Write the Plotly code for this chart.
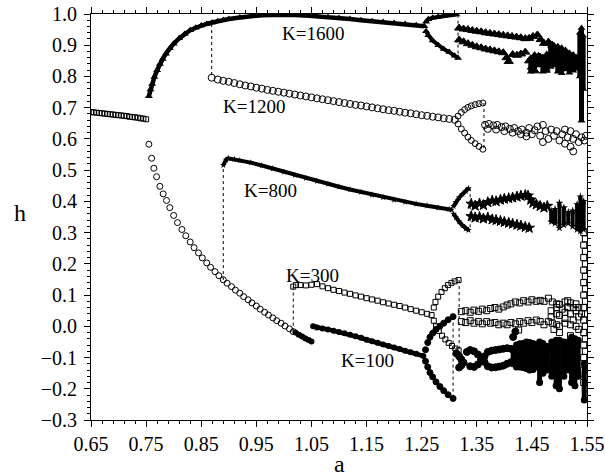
import plotly.graph_objects as go

# ---------------- data ----------------
# common state of all K before the first jump
a_common = [0.650,0.655,0.660,0.665,0.670,0.675,0.680,0.685,0.690,0.695,0.700,
            0.705,0.710,0.715,0.720,0.725,0.730,0.735,0.740,0.745,0.750]
h_common = [0.686,0.685,0.684,0.683,0.682,0.681,0.680,0.679,0.678,0.677,0.676,
            0.675,0.674,0.673,0.671,0.670,0.669,0.668,0.666,0.665,0.663]

# lower branch shared by K=800, 300, 100
a_low = [0.755,0.760,0.764,0.769,0.775,0.781,0.787,0.793,0.800,0.807,0.815,0.822,0.830,
         0.837,0.845,0.852,0.860,0.867,0.875,0.882,0.890,0.897,0.905,0.912,0.920,0.927,
         0.935,0.942,0.950,0.957,0.965,0.972,0.980,0.987,0.995,1.002,1.010,1.017]
h_low = [0.583,0.538,0.506,0.479,0.448,0.424,0.403,0.380,0.355,0.332,0.310,0.290,0.270,
         0.252,0.235,0.219,0.203,0.189,0.175,0.162,0.149,0.138,0.127,0.116,0.106,0.095,
         0.085,0.075,0.065,0.055,0.045,0.036,0.027,0.018,0.010,0.001,-0.008,-0.017]

# K=1600 (upper branch, shared with K=1200 up to a=0.869)
a1600 = [0.755,0.758,0.761,0.765,0.770,0.775,0.780,0.786,0.793,0.800,0.810,0.820,0.830,
         0.840,0.850,0.860,0.870,0.880,0.890,0.900,0.920,0.940,0.960,0.980,1.000,1.020,
         1.040,1.060,1.080,1.100,1.120,1.140,1.160,1.180,1.200,1.220,1.240,1.255]
h1600 = [0.737,0.758,0.776,0.798,0.820,0.840,0.856,0.873,0.890,0.905,0.922,0.936,0.948,
         0.956,0.963,0.968,0.973,0.977,0.981,0.984,0.989,0.993,0.996,0.997,0.998,0.997,
         0.995,0.993,0.990,0.987,0.984,0.980,0.977,0.974,0.971,0.968,0.964,0.961]
a1600_bif = [1.258,1.262,1.270,1.280,1.290,1.300,1.313]
h1600_up = [0.975,0.983,0.988,0.991,0.994,0.996,0.998]
a1600_bif2 = [1.258,1.262,1.270,1.280,1.290,1.300,1.310,1.316]
h1600_dn = [0.945,0.932,0.915,0.900,0.888,0.878,0.866,0.859]
a1600_c = [1.318,1.326,1.334,1.342,1.350,1.358,1.366,1.374,1.382,1.390,1.398,1.406,1.414,
           1.422,1.430,1.438,1.445,1.452,1.460,1.466,1.472,1.480,1.487,
           1.318,1.326,1.334,1.342,1.350,1.358,1.366,1.374,1.382,1.390,1.398,1.404,1.408,
           1.415,1.423,1.430,1.438,1.445,1.450,1.455,1.460,1.465,1.470,1.475,1.480]
h1600_c = [0.955,0.952,0.950,0.947,0.945,0.943,0.940,0.938,0.936,0.934,0.932,0.930,0.928,
           0.926,0.924,0.921,0.922,0.928,0.933,0.918,0.906,0.910,0.900,
           0.917,0.911,0.905,0.900,0.895,0.892,0.888,0.885,0.882,0.879,0.876,0.860,0.848,
           0.870,0.868,0.872,0.878,0.850,0.830,0.818,0.850,0.862,0.840,0.820,0.836]
# dense chaotic columns: a, lowest h, highest h
a1600_col = [1.448,1.455,1.462,1.470,1.477,1.484,1.490,1.497,1.504,1.511,1.518,1.525,
             1.532,1.537,1.540,1.543]
lo1600_col = [0.815,0.820,0.835,0.815,0.825,0.830,0.835,0.815,0.810,0.822,0.812,0.818,
              0.825,0.800,0.658,0.760]
hi1600_col = [0.860,0.870,0.868,0.862,0.872,0.905,0.900,0.897,0.892,0.885,0.876,0.870,
              0.862,0.940,0.955,0.930]

# K=1200
a1200 = [0.869,0.880,0.890,0.900,0.910,0.920,0.930,0.940,0.950,0.960,0.970,0.980,0.990,
         1.000,1.010,1.020,1.030,1.040,1.050,1.060,1.070,1.080,1.090,1.100,1.110,1.120,
         1.130,1.140,1.150,1.160,1.170,1.180,1.190,1.200,1.210,1.220,1.230,1.240,1.250,
         1.260,1.270,1.280,1.290,1.300,1.310]
h1200 = [0.796,0.790,0.786,0.783,0.779,0.775,0.771,0.768,0.764,0.761,0.757,0.754,0.751,
         0.748,0.745,0.742,0.739,0.736,0.733,0.730,0.727,0.724,0.721,0.718,0.715,0.712,
         0.709,0.707,0.704,0.701,0.698,0.695,0.692,0.690,0.687,0.684,0.682,0.679,0.676,
         0.674,0.671,0.669,0.666,0.664,0.661]
a1200_bif = [1.316,1.322,1.328,1.334,1.340,1.347,1.354,1.361]
h1200_up = [0.673,0.685,0.694,0.701,0.706,0.710,0.713,0.715]
h1200_dn = [0.648,0.632,0.619,0.606,0.595,0.585,0.576,0.567]
a1200_c = [1.365,1.372,1.380,1.387,1.395,1.402,1.410,1.418,1.425,1.432,1.440,1.445,1.450,
           1.455,1.460,1.465,1.470,1.470,1.475,1.480,1.485,1.490,1.495,1.500,1.505,1.510,
           1.510,1.515,1.520,1.520,1.525,1.525,1.530,1.535,1.540,1.545,1.548,
           1.370,1.385,1.400,1.415,1.430,1.440]
h1200_c = [0.645,0.648,0.643,0.645,0.638,0.640,0.632,0.635,0.625,0.630,0.620,0.635,0.615,
           0.628,0.640,0.610,0.645,0.590,0.625,0.600,0.630,0.610,0.625,0.595,0.615,0.630,
           0.585,0.605,0.575,0.625,0.560,0.600,0.615,0.590,0.605,0.595,0.610,
           0.632,0.630,0.625,0.620,0.615,0.608]

# K=800
a800 = [0.890,0.895,0.899,0.910,0.920,0.940,0.960,0.980,1.000,1.020,1.040,1.060,1.080,
        1.100,1.120,1.140,1.160,1.180,1.200,1.220,1.240,1.260,1.280,1.300,1.304]
h800 = [0.516,0.533,0.538,0.535,0.531,0.524,0.515,0.505,0.494,0.484,0.474,0.465,0.456,
        0.447,0.438,0.430,0.421,0.413,0.405,0.398,0.392,0.386,0.380,0.375,0.373]
a800_bif = [1.308,1.312,1.318,1.324,1.330,1.335]
h800_up = [0.385,0.398,0.412,0.423,0.433,0.442]
h800_dn = [0.360,0.348,0.335,0.323,0.313,0.308]
a800_c = [1.340,1.347,1.355,1.362,1.370,1.378,1.385,1.393,1.400,1.408,1.415,1.423,1.430,
          1.438,1.443,1.448,1.452,1.458,1.465,1.472,1.478,
          1.340,1.347,1.355,1.362,1.370,1.378,1.385,1.393,1.400,1.408,1.415,1.423,1.430,
          1.438,1.445]
h800_c = [0.392,0.386,0.393,0.388,0.397,0.402,0.400,0.405,0.408,0.410,0.412,0.415,0.418,
          0.420,0.418,0.405,0.395,0.390,0.385,0.380,0.385,
          0.352,0.348,0.350,0.345,0.348,0.342,0.340,0.337,0.334,0.331,0.328,0.325,0.322,
          0.318,0.315]
a800_col = [1.485,1.492,1.500,1.508,1.516,1.524,1.532,1.538,1.544]
lo800_col = [0.335,0.330,0.315,0.325,0.330,0.320,0.310,0.305,0.310]
hi800_col = [0.370,0.375,0.395,0.380,0.365,0.370,0.390,0.415,0.400]

# K=300
a300 = [1.017,1.022,1.030,1.040,1.050,1.060,1.070,1.080,1.090,1.100,1.110,1.120,1.130,
        1.140,1.150,1.160,1.170,1.180,1.190,1.200,1.210,1.220,1.230,1.240,1.250,1.260,1.268]
h300 = [0.127,0.132,0.132,0.131,0.133,0.135,0.128,0.122,0.117,0.113,0.108,0.104,0.099,
        0.095,0.090,0.086,0.082,0.077,0.073,0.069,0.065,0.060,0.055,0.050,0.045,0.040,0.036]
a300_bif_up = [1.272,1.275,1.280,1.286,1.292,1.298,1.304,1.310,1.317]
h300_up = [0.060,0.078,0.095,0.110,0.122,0.132,0.139,0.144,0.148]
a300_bif_dn = [1.272,1.276,1.281,1.287,1.293,1.299,1.305,1.311,1.317]
h300_dn = [0.018,0.000,-0.015,-0.030,-0.042,-0.053,-0.063,-0.071,-0.077]
a300_c = [1.322,1.330,1.338,1.345,1.353,1.360,1.368,1.375,1.383,1.390,1.398,1.405,1.412,
          1.420,1.428,1.435,1.443,1.450,1.458,1.465,1.472,1.480,1.487,1.495,1.500,1.510,
          1.515,1.520,1.530,
          1.322,1.330,1.338,1.345,1.353,1.360,1.368,1.375,1.383,1.390,1.398,1.405,1.412,
          1.420,1.428,1.435,1.443,1.450,1.458,1.465,1.472,1.480,1.487,1.495,1.500,1.510,
          1.520,1.530,
          1.485,1.485,1.490,1.495,1.495,1.500,1.500,1.505,1.510,1.510,1.515,1.520,1.520,
          1.525,1.525,1.530,1.535,1.535,1.535,1.540,1.426]
h300_c = [0.047,0.050,0.045,0.052,0.048,0.055,0.050,0.057,0.060,0.055,0.062,0.068,0.072,
          0.078,0.075,0.082,0.078,0.085,0.080,0.083,0.080,0.090,0.078,0.072,0.070,0.078,
          0.082,0.075,0.072,
          0.015,0.012,0.018,0.010,0.015,0.008,0.015,0.010,0.012,0.005,0.010,0.005,0.012,
          0.008,0.015,0.010,0.018,0.012,0.020,0.015,0.005,0.015,0.010,0.005,0.000,0.010,
          0.005,0.000,
          0.050,0.030,-0.010,0.060,0.040,0.035,-0.020,0.055,0.045,0.025,0.060,0.040,-0.030,
          0.060,0.020,0.050,0.060,0.030,-0.010,0.040,-0.012]
a300_col = [1.544,1.547,1.544,1.547,1.544,1.547,1.544,1.547,1.544,1.547,1.544,1.547,1.544,
            1.547,1.544,1.547,1.544,1.547,1.544,1.547,1.544,1.547,1.544,1.547,1.544,1.547]
h300_col = [0.300,0.280,0.260,0.240,0.220,0.200,0.180,0.160,0.140,0.120,0.100,0.080,0.060,
            0.040,0.020,0.000,-0.020,-0.040,-0.060,-0.080,-0.100,-0.120,-0.140,-0.160,
            -0.180,-0.200]

# K=100
a100_pre = [1.021,1.027,1.033,1.039,1.045,1.050]
h100_pre = [-0.020,-0.027,-0.033,-0.039,-0.044,-0.049]
a100 = [1.053,1.060,1.070,1.080,1.090,1.100,1.110,1.120,1.130,1.140,1.150,1.160,1.170,
        1.180,1.190,1.200,1.210,1.220,1.230,1.240,1.253]
h100 = [0.000,-0.004,-0.007,-0.010,-0.014,-0.018,-0.022,-0.027,-0.032,-0.037,-0.043,
        -0.048,-0.053,-0.058,-0.063,-0.068,-0.073,-0.078,-0.083,-0.088,-0.095]
a100_bif = [1.257,1.261,1.265,1.270,1.276,1.283,1.290,1.298,1.307]
h100_up = [-0.075,-0.052,-0.035,-0.022,-0.010,0.000,0.010,0.021,0.031]
h100_dn = [-0.112,-0.130,-0.148,-0.162,-0.178,-0.193,-0.206,-0.219,-0.231]
a100_c = [1.313,1.318,1.322,1.326,1.322,1.318,1.332,1.338,1.345,1.352,1.358,1.364,1.370,
          1.377,1.384,1.391,1.398,1.405,1.412,1.338,1.345,1.352,1.358,1.364,1.370,1.377,
          1.384,1.391,1.398,1.405,1.412,1.416,1.420]
h100_c = [-0.087,-0.096,-0.106,-0.116,-0.125,-0.132,-0.082,-0.076,-0.080,-0.090,-0.102,
          -0.114,-0.082,-0.078,-0.076,-0.074,-0.072,-0.070,-0.072,-0.128,-0.130,-0.122,
          -0.108,-0.096,-0.128,-0.132,-0.131,-0.129,-0.126,-0.120,-0.115,-0.034,-0.017]
a100_col = [1.416,1.422,1.428,1.434,1.440,1.446,1.452,1.458,1.464,1.470,1.478,1.486,1.494,
            1.500,1.508,1.516,1.522,1.528,1.534,1.545]
lo100_col = [-0.120,-0.130,-0.130,-0.132,-0.135,-0.140,-0.138,-0.130,-0.180,-0.150,-0.140,
             -0.160,-0.190,-0.200,-0.160,-0.140,-0.180,-0.190,-0.160,-0.236]
hi100_col = [-0.075,-0.060,-0.056,-0.055,-0.050,-0.052,-0.055,-0.060,-0.050,-0.055,-0.065,
             -0.050,-0.045,-0.045,-0.050,-0.050,-0.035,-0.040,-0.045,-0.120]

# vertical dotted jump lines
jump_a  = [0.869, 0.890, 1.017, 1.316, 1.363, 1.338, 1.318, 1.307]
jump_h0 = [0.968, 0.148, -0.017, 0.998, 0.715, 0.442, 0.148, 0.031]
jump_h1 = [0.796, 0.516, 0.127, 0.859, 0.567, 0.308, -0.077, -0.231]

labels   = ["K=1600", "K=1200", "K=800", "K=300", "K=100"]
label_a  = [1.052, 0.945, 0.975, 1.051, 1.152]
label_h  = [0.936, 0.705, 0.435, 0.164, -0.110]

# ---------------- figure ----------------
FONT = "Liberation Serif"
fig = go.Figure()

def pts(x, y, symbol, size, lw=1):
    fig.add_trace(go.Scatter(x=x, y=y, mode="markers", showlegend=False, hoverinfo="skip",
                             marker=dict(symbol=symbol, size=size, color="black",
                                         line=dict(color="black", width=lw))))

def chain(x, y, symbol, size, width):
    fig.add_trace(go.Scatter(x=x, y=y, mode="lines+markers", showlegend=False, hoverinfo="skip",
                             line=dict(color="black", width=width),
                             marker=dict(symbol=symbol, size=size, color="black")))

def columns(x, lo, hi, width, symbol):
    cx, cy = [], []
    for a, l, h in zip(x, lo, hi):
        cx += [a, a, None]
        cy += [l, h, None]
    fig.add_trace(go.Scatter(x=cx, y=cy, mode="lines+markers", showlegend=False,
                             hoverinfo="skip", line=dict(color="black", width=width),
                             marker=dict(symbol=symbol, size=width + 2, color="black")))

# dotted jumps
jx, jy = [], []
for a, h0, h1 in zip(jump_a, jump_h0, jump_h1):
    jx += [a, a, None]
    jy += [h0, h1, None]
fig.add_trace(go.Scatter(x=jx, y=jy, mode="lines", showlegend=False, hoverinfo="skip",
                         line=dict(color="black", width=1, dash="dot")))

pts(a_common, h_common, "square-open", 5)
pts(a_low, h_low, "circle-open", 6)

# K=1600
chain(a1600, h1600, "triangle-up", 7, 4.5)
chain(a1600_bif, h1600_up, "triangle-up", 7, 4)
chain(a1600_bif2, h1600_dn, "triangle-up", 7, 4)
columns(a1600_col, lo1600_col, hi1600_col, 5, "triangle-up")
pts(a1600_c, h1600_c, "triangle-up", 8)

# K=1200
pts(a1200, h1200, "circle-open", 7)
pts(a1200_bif, h1200_up, "circle-open", 6)
pts(a1200_bif, h1200_dn, "circle-open", 6)
pts(a1200_c, h1200_c, "circle-open", 7)

# K=800
chain(a800, h800, "star", 5, 4)
chain(a800_bif, h800_up, "star", 5, 4)
chain(a800_bif, h800_dn, "star", 5, 4)
columns(a800_col, lo800_col, hi800_col, 4, "star")
pts(a800_c, h800_c, "star", 8)

# K=300
pts(a300, h300, "square-open", 5)
pts(a300_bif_up, h300_up, "square-open", 5)
pts(a300_bif_dn, h300_dn, "square-open", 5)
pts(a300_c, h300_c, "square-open", 6)

# K=100
chain(a100_pre, h100_pre, "circle", 6, 4.5)
chain(a100, h100, "circle", 6, 4.5)
pts(a100_bif, h100_up, "circle", 6)
pts(a100_bif, h100_dn, "circle", 6)
columns(a100_col, lo100_col, hi100_col, 5, "circle")
pts(a100_c, h100_c, "circle", 7)
pts(a300_col, h300_col, "square-open", 6)

for t, a, h in zip(labels, label_a, label_h):
    fig.add_annotation(x=a, y=h, text=t, showarrow=False, xanchor="center", yanchor="middle",
                       font=dict(family=FONT, size=19, color="black"))

W, H = 605, 476
L, R, T, B = 91, 18, 14, 56
PW, PH = W - L - R, H - T - B

fig.add_annotation(xref="paper", yref="paper", x=(20 - L) / PW, y=(H - B - 213) / PH,
                   text="h", showarrow=False, xanchor="center", yanchor="middle",
                   font=dict(family=FONT, size=24, color="black"))
fig.add_annotation(xref="paper", yref="paper", x=(339 - L) / PW, y=(H - B - 464) / PH,
                   text="a", showarrow=False, xanchor="center", yanchor="middle",
                   font=dict(family=FONT, size=24, color="black"))

axis_common = dict(showline=True, linecolor="black", linewidth=1, mirror="ticks",
                   ticks="outside", ticklen=6, tickwidth=1, tickcolor="black",
                   showgrid=False, zeroline=False, automargin=False,
                   ticklabeloverflow="allow",
                   tickfont=dict(family=FONT, size=20, color="black"))

fig.update_xaxes(range=[0.65, 1.55], tick0=0.65, dtick=0.1, tickformat=".2f",
                 minor=dict(ticks="outside", ticklen=3, tick0=0.65, dtick=0.02,
                            tickcolor="black", showgrid=False),
                 **axis_common)
fig.update_yaxes(range=[-0.3, 1.0], tick0=0.0, dtick=0.1, tickformat=".1f",
                 ticklabelstandoff=3,
                 minor=dict(ticks="outside", ticklen=3, tick0=0.0, dtick=0.02,
                            tickcolor="black", showgrid=False),
                 **axis_common)

fig.update_layout(width=W, height=H, margin=dict(l=L, r=R, t=T, b=B),
                  paper_bgcolor="white", plot_bgcolor="white", showlegend=False,
                  font=dict(family=FONT, color="black"))

fig.write_html("out.html", config={"displayModeBar": False},
               post_script="document.body.style.margin='0';document.body.style.overflow='hidden';")
